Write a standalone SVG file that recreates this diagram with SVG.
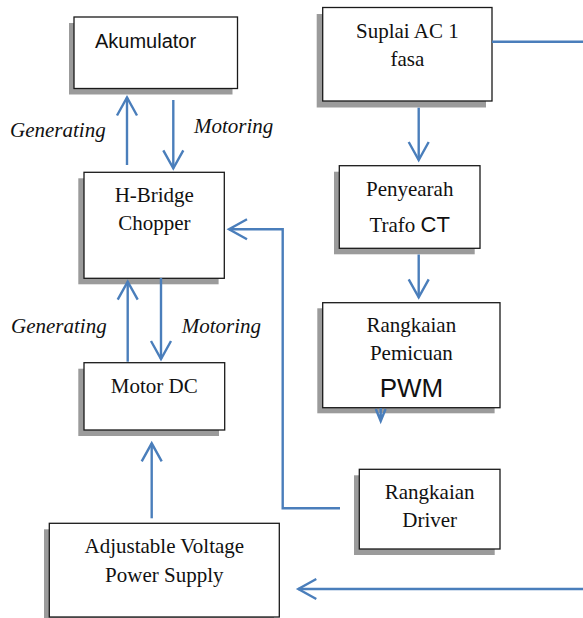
<svg xmlns="http://www.w3.org/2000/svg" width="583" height="618" viewBox="0 0 583 618">
<style>
.box{fill:#fff;stroke:#1a1a1a;stroke-width:1.3}
.sh{fill:#9b9b9b}
.t{font-family:"Liberation Serif","Times New Roman",serif;font-size:21px;fill:#111;text-anchor:middle}
.s{font-family:"Liberation Sans",Arial,sans-serif;fill:#111}
.lbl{font-family:"Liberation Serif","Times New Roman",serif;font-size:21px;font-style:italic;fill:#111}
.c{fill:none;stroke:#4a7ebb;stroke-width:2.4}
</style>
<defs>
<marker id="ah" viewBox="-21 -12 24 24" markerWidth="24" markerHeight="24" refX="0" refY="0" orient="auto" markerUnits="userSpaceOnUse" overflow="visible">
<path d="M-18,-10 L0,0 L-18,10" fill="none" stroke="#4a7ebb" stroke-width="2.4"/>
</marker>
</defs>
<g id="akumulator">
<rect class="sh" x="69" y="23" width="163.5" height="71.5"/>
<rect class="box" x="74" y="17" width="163.5" height="71.5"/>
<text class="s" x="95" y="48" font-size="20">Akumulator</text>
</g>
<g id="suplai-ac">
<rect class="sh" x="316.7" y="14" width="169.3" height="93.5"/>
<rect class="box" x="322.7" y="7.5" width="169.3" height="93.5"/>
<text class="t" x="407.3" y="37.7">Suplai AC 1</text>
<text class="t" x="407.3" y="65.7">fasa</text>
</g>
<g id="h-bridge">
<rect class="sh" x="78.3" y="178.3" width="140.3" height="106"/>
<rect class="box" x="84" y="172.3" width="140.3" height="106"/>
<text class="t" x="154.3" y="201.7">H-Bridge</text>
<text class="t" x="154.3" y="229.5">Chopper</text>
</g>
<g id="penyearah">
<rect class="sh" x="334" y="171.7" width="140.7" height="82.6"/>
<rect class="box" x="339.3" y="165.7" width="140.7" height="82.6"/>
<text class="t" x="409.7" y="195.7">Penyearah</text>
<text class="t" x="409.7" y="231.7">Trafo <tspan class="s" font-size="22">CT</tspan></text>
</g>
<g id="pemicuan">
<rect class="sh" x="317.3" y="308.3" width="177.3" height="105"/>
<rect class="box" x="322.7" y="302.7" width="177.3" height="105"/>
<text class="t" x="411.3" y="332.3">Rangkaian</text>
<text class="t" x="411.3" y="360">Pemicuan</text>
<text class="s" x="411.5" y="396.7" font-size="26" text-anchor="middle">PWM</text>
</g>
<g id="motor-dc">
<rect class="sh" x="78.3" y="368.7" width="140.7" height="67.3"/>
<rect class="box" x="84" y="362.7" width="140.7" height="67.3"/>
<text class="t" x="154.3" y="393.3">Motor DC</text>
</g>
<g id="driver">
<rect class="sh" x="354" y="475.3" width="140.7" height="79.7"/>
<rect class="box" x="359.3" y="469.3" width="140.7" height="79.7"/>
<text class="t" x="429.7" y="499">Rangkaian</text>
<text class="t" x="429.7" y="526.7">Driver</text>
</g>
<g id="adjustable-psu">
<rect class="sh" x="44" y="529.3" width="230" height="93.7"/>
<rect class="box" x="49.3" y="523.3" width="230" height="93.7"/>
<text class="t" x="164.3" y="552.7">Adjustable Voltage</text>
<text class="t" x="164.3" y="581.7">Power Supply</text>
</g>
<g id="connectors">
<path class="c" d="M127,165 L127,97.5" marker-end="url(#ah)"/>
<path class="c" d="M173.3,100 L173.3,168.3" marker-end="url(#ah)"/>
<path class="c" d="M492,41.7 L583,41.7"/>
<path class="c" d="M418.7,107.7 L418.7,160" marker-end="url(#ah)"/>
<path class="c" d="M418.7,254.5 L418.7,297.3" marker-end="url(#ah)"/>
<path class="c" d="M380.7,408 L380.7,421 M375.8,409 L380.7,421 L385.6,409"/>
<path class="c" d="M340,508.3 L282.7,508.3 L282.7,229.3 L229,229.3" marker-end="url(#ah)"/>
<path class="c" d="M583,589 L298.3,589" marker-end="url(#ah)"/>
<path class="c" d="M127.7,361.7 L127.7,281.7" marker-end="url(#ah)"/>
<path class="c" d="M161,278 L161,359" marker-end="url(#ah)"/>
<path class="c" d="M151.7,518.3 L151.7,443.3" marker-end="url(#ah)"/>
</g>
<g id="labels">
<text class="lbl" x="10" y="137">Generating</text>
<text class="lbl" x="194" y="133">Motoring</text>
<text class="lbl" x="11" y="333.3">Generating</text>
<text class="lbl" x="181.7" y="333.3">Motoring</text>
</g>
</svg>
